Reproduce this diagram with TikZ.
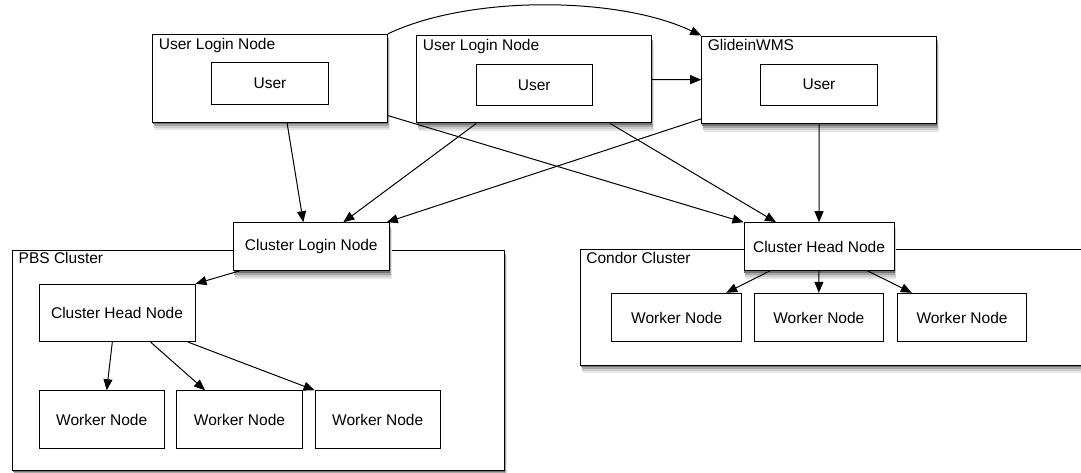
\documentclass[tikz,border=0pt]{standalone}
\usepackage{fontspec}
\setmainfont{Liberation Sans}
\usetikzlibrary{arrows.meta,calc}
\newcommand\myshadow[1]{%
  \fill[black!10] ($(#1.south west)+(2,0)$) rectangle ($(#1.south east)+(2,8)$);
  \fill[black!10] ($(#1.north east)+(0,6)$) rectangle ($(#1.south east)+(2,8)$);
  \fill[black!20] ($(#1.south west)+(1.5,0)$) rectangle ($(#1.south east)+(1.5,6)$);
  \fill[black!20] ($(#1.north east)+(0,5)$) rectangle ($(#1.south east)+(1.5,6)$);
  \fill[black!35] ($(#1.south west)+(1,0)$) rectangle ($(#1.south east)+(1,4)$);
  \fill[black!35] ($(#1.north east)+(0,4)$) rectangle ($(#1.south east)+(1,4)$);
  \fill[black!55] ($(#1.south west)+(0.5,0)$) rectangle ($(#1.south east)+(0.5,2)$);
}
\begin{document}
\begin{tikzpicture}[x=1pt,y=-1pt,
  box/.style={draw=black, line width=1pt, fill=white, inner sep=0pt, font=\fontsize{15.5}{18}\selectfont},
  lbl/.style={anchor=north west, inner sep=0pt, font=\fontsize{15.5}{18}\selectfont},
  conn/.style={line width=1pt, -{Triangle[length=11pt,width=9pt]}},
]
\path[use as bounding box] (0,0) rectangle (1081,473);

% cluster frames
\path (258.5,360) node[minimum width=491.6pt,minimum height=220pt,inner sep=0pt] (pbsf) {};
\path (840.35,307.15) node[minimum width=519.3pt,minimum height=115.7pt,inner sep=0pt] (condorf) {};
\myshadow{pbsf}
\myshadow{condorf}
\node[box,minimum width=491.6pt,minimum height=220pt] (pbs) at (pbsf) {};
\node[box,minimum width=519.3pt,minimum height=115.7pt] (condor) at (condorf) {};
\node[lbl] (pbst) at ([xshift=6.3pt,yshift=-2.5pt]pbs.north west) {PBS Cluster};
\node[lbl] (condort) at ([xshift=6pt,yshift=-3pt]condor.north west) {Condor Cluster};

% frames of shadowed boxes (invisible) and their shadows
\path (270,78.2) node[minimum width=234.6pt,minimum height=87.7pt,inner sep=0pt] (ul1f) {};
\path (534.2,79.5) node[minimum width=235pt,minimum height=87pt,inner sep=0pt] (ul2f) {};
\path (819.2,79.7) node[minimum width=235pt,minimum height=87.3pt,inner sep=0pt] (gwf) {};
\path (311.3,246.5) node[minimum width=156pt,minimum height=47.6pt,inner sep=0pt] (clf) {};
\path (819,246.5) node[minimum width=150pt,minimum height=47.6pt,inner sep=0pt] (chf) {};
\myshadow{ul1f}
\myshadow{ul2f}
\myshadow{gwf}
\myshadow{clf}
\myshadow{chf}

% top row
\node[box,minimum width=234.6pt,minimum height=87.7pt] (ul1) at (ul1f) {};
\node[box,minimum width=116.6pt,minimum height=41.7pt] (u1) at (270,83.2) {User};
\node[lbl] (ul1t) at ([xshift=6.5pt,yshift=-4.5pt]ul1.north west) {User Login Node};

\node[box,minimum width=235pt,minimum height=87pt] (ul2) at (ul2f) {};
\node[box,minimum width=116.3pt,minimum height=41pt] (u2) at (534.2,84.8) {User};
\node[lbl] (ul2t) at ([xshift=6.5pt,yshift=-4pt]ul2.north west) {User Login Node};

\node[box,minimum width=235pt,minimum height=87.3pt] (gw) at (gwf) {};
\node[box,minimum width=116.6pt,minimum height=41.3pt] (u3) at (819,84.7) {User};
\node[lbl] (gwt) at ([xshift=6.5pt,yshift=-4pt]gw.north west) {GlideinWMS};

% PBS cluster contents
\node[box,minimum width=156pt,minimum height=47.6pt] (cl) at (clf) {Cluster Login Node};
\node[box,minimum width=156pt,minimum height=57.4pt] (phead) at (117,313) {Cluster Head Node};
\node[box,minimum width=125.3pt,minimum height=57.6pt] (pw1) at (101.7,419.5) {Worker Node};
\node[box,minimum width=125.6pt,minimum height=57.6pt] (pw2) at (239.5,419.5) {Worker Node};
\node[box,minimum width=125.3pt,minimum height=57.6pt] (pw3) at (377.7,419.5) {Worker Node};

% Condor cluster contents
\node[box,minimum width=150pt,minimum height=47.6pt] (ch) at (chf) {Cluster Head Node};
\node[box,minimum width=130pt,minimum height=48.4pt] (cw1) at (676.7,317.5) {Worker Node};
\node[box,minimum width=129pt,minimum height=48.4pt] (cw2) at (818.8,317.5) {Worker Node};
\node[box,minimum width=129.4pt,minimum height=48.4pt] (cw3) at (962,317.5) {Worker Node};

% connectors between top boxes
\draw[conn] (ul1.north east) .. controls +(82.7,-39.3) and +(-81.7,-39) .. (gw.north west);
\draw[conn] (ul2.east) -- (gw.west);

% into cluster login node
\draw[conn] ([xshift=17pt]ul1.south) -- ([xshift=-8pt]cl.north);
\draw[conn] ([xshift=-58pt]ul2.south) -- ([xshift=32pt]cl.north);
\draw[conn] ([yshift=5pt]gw.south west) -- ([xshift=-3pt]cl.north east);

% into condor head node
\draw[conn] ([yshift=7pt]ul1.south east) -- (ch.north west);
\draw[conn] ([xshift=76pt]ul2.south) -- ([xshift=-43pt]ch.north);
\draw[conn] (gw.south) -- (ch.north);

% PBS internal
\draw[conn] ([xshift=7pt]cl.south west) -- (phead.north east);
\draw[conn] ([xshift=-4.7pt]phead.south) -- ([xshift=5pt]pw1.north);
\draw[conn] ([xshift=33.7pt]phead.south) -- ([xshift=-34.5pt]pw2.north);
\draw[conn] ([xshift=71.3pt]phead.south) -- (pw3.north west);

% Condor internal
\draw[conn] ([xshift=-49pt]ch.south) -- ([xshift=-16pt]cw1.north east);
\draw[conn] (ch.south) -- (cw2.north);
\draw[conn] ([xshift=48.3pt]ch.south) -- ([xshift=15pt]cw3.north west);
\end{tikzpicture}
\end{document}
